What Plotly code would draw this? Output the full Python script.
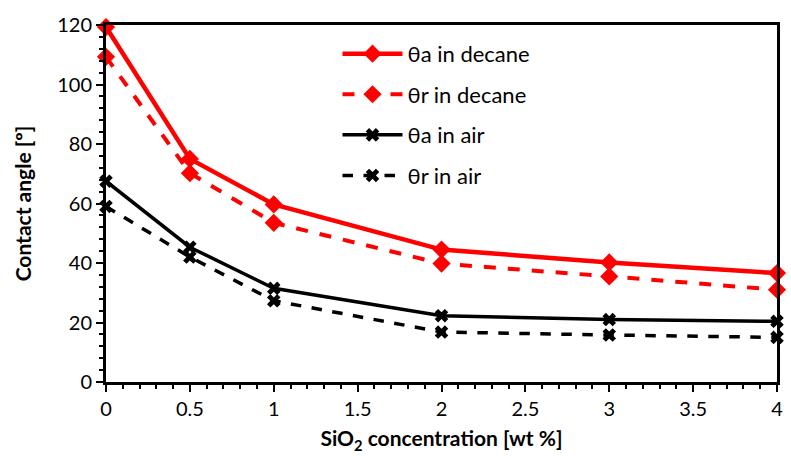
import plotly.graph_objects as go

x_conc = [0, 0.5, 1, 2, 3, 4]
theta_a_decane = [119.3, 75.0, 59.7, 44.5, 40.2, 36.6]
theta_r_decane = [109.3, 70.2, 53.5, 39.8, 35.5, 31.0]
theta_a_air = [67.5, 45.3, 31.5, 22.3, 21.0, 20.4]
theta_r_air = [59.0, 42.0, 27.3, 16.8, 15.8, 15.0]
names = ["θa in decane", "θr in decane", "θa in air", "θr in air"]

fig = go.Figure()
specs = [
    (theta_a_decane, "#ff0000", "solid", "diamond", 14, 4.5),
    (theta_r_decane, "#ff0000", "dash", "diamond", 14, 4),
    (theta_a_air, "#000000", "solid", "x", 12, 3.5),
    (theta_r_air, "#000000", "dash", "x", 12, 3.5),
]
for i, ((vals, col, dash, sym, ms, lw), nm) in enumerate(zip(specs, names)):
    fig.add_trace(go.Scatter(
        x=x_conc, y=vals, name=nm, mode="lines+markers", legendgroup=f"g{i}",
        line=dict(color=col, width=lw, dash=dash),
        marker=dict(symbol=sym, size=ms, color=col, line=dict(width=0)),
        cliponaxis=False,
    ))

font_family = "Lato, Open Sans, sans-serif"
fig.update_layout(
    width=791, height=456,
    margin=dict(l=106, r=8, t=25, b=74),
    paper_bgcolor="white", plot_bgcolor="white",
    font=dict(family=font_family, color="black", size=20),
    showlegend=True,
    legend=dict(x=0.345, y=0.978, xanchor="left", yanchor="top",
                bgcolor="rgba(0,0,0,0)", font=dict(size=22),
                traceorder="grouped", tracegroupgap=9, itemwidth=60),
    xaxis=dict(
        range=[0, 4], tickvals=[0, 0.5, 1, 1.5, 2, 2.5, 3, 3.5, 4],
        ticktext=["0", "0.5", "1", "1.5", "2", "2.5", "3", "3.5", "4"],
        showgrid=False, zeroline=False,
        showline=True, linecolor="black", linewidth=3, mirror=True,
        ticks="outside", ticklen=7, tickwidth=2, tickcolor="black",
        minor=dict(dtick=0.1, tick0=0, ticks="outside", ticklen=4, tickwidth=2, tickcolor="black"),
        title=dict(text="<b>SiO<sub>2</sub> concentration [wt %]</b>", font=dict(size=21), standoff=13),
    ),
    yaxis=dict(
        range=[0, 120], dtick=20,
        showgrid=False, zeroline=False,
        showline=True, linecolor="black", linewidth=3, mirror=True,
        ticks="outside", ticklen=7, tickwidth=2, tickcolor="black",
        minor=dict(dtick=4, ticks="outside", ticklen=4, tickwidth=2, tickcolor="black"),
        title=dict(text="<b>Contact angle [º]</b>", font=dict(size=21), standoff=20),
    ),
)

fig.write_html("out.html")
